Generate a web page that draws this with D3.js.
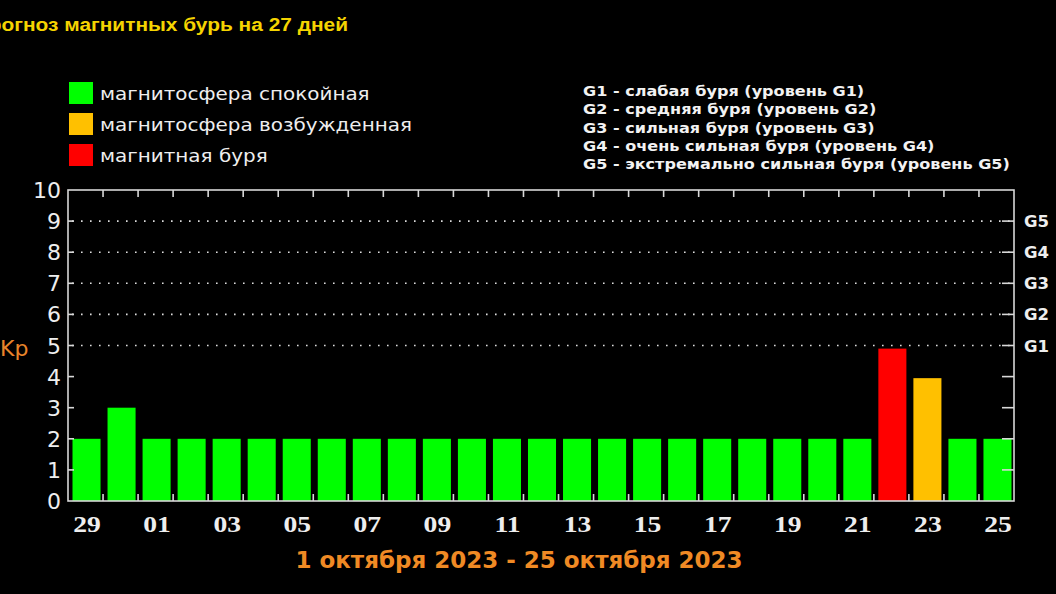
<!DOCTYPE html>
<html><head><meta charset="utf-8">
<script src="https://cdn.jsdelivr.net/npm/d3@7"></script>
<style>html,body{margin:0;padding:0;background:#000;overflow:hidden}</style>
</head><body>
<svg id="c" width="1056" height="594"></svg>
<script>
const days = ["29","30","01","02","03","04","05","06","07","08","09","10","11","12","13","14","15","16","17","18","19","20","21","22","23","24","25"];
const kp =   [2,3,2,2,2,2,2,2,2,2,2,2,2,2,2,2,2,2,2,2,2,2,2,4.9,3.95,2,2];
const level = ["q","q","q","q","q","q","q","q","q","q","q","q","q","q","q","q","q","q","q","q","q","q","q","s","a","q","q"];
const yTicks = [0,1,2,3,4,5,6,7,8,9,10];
const gLevels = [5,6,7,8,9];
const gLabels = ["G1","G2","G3","G4","G5"];
const legendLabels = ["магнитосфера спокойная","магнитосфера возбужденная","магнитная буря"];
const gDesc = ["G1 - слабая буря (уровень G1)","G2 - средняя буря (уровень G2)","G3 - сильная буря (уровень G3)","G4 - очень сильная буря (уровень G4)","G5 - экстремально сильная буря (уровень G5)"];
const colorMap = {q:"#00ff00", a:"#ffc000", s:"#ff0000"};
const legendColors = ["#00ff00","#ffc000","#ff0000"];

const svg = d3.select("#c");
const L=68, R=1014, T=190, B=501;
const x = d3.scaleBand().domain(days).range([L,R]).padding(0);
const y = d3.scaleLinear().domain([0,10]).range([B,T]);

function stext(parent, tx, ty, sx, txt){
  return parent.append("text").attr("transform",`translate(${tx},${ty}) scale(${sx},1)`).text(txt);
}

// title
stext(svg, 348, 31, 1.13, "Прогноз магнитных бурь на 27 дней").attr("text-anchor","end")
  .attr("font-family","Liberation Sans, Arial, sans-serif").attr("font-weight","bold")
  .attr("font-size",18.5).attr("fill","#f5d400");

// left legend
const lg = svg.append("g");
legendLabels.forEach((t,i)=>{
  lg.append("rect").attr("x",69).attr("y",82+i*31).attr("width",24).attr("height",22).attr("fill",legendColors[i]);
  stext(lg, 100, 100+i*31, 1.14, t).attr("font-family","DejaVu Sans, sans-serif")
    .attr("font-size",17.5).attr("fill","#eee");
});
// right legend
gDesc.forEach((t,i)=>{
  stext(svg, 583, 96+i*18.3, 1.19, t).attr("font-family","DejaVu Sans, sans-serif")
    .attr("font-weight","bold").attr("font-size",13.5).attr("fill","#f2f2f2");
});

// gridlines
svg.append("g").selectAll("line").data(gLevels).join("line")
  .attr("x1",L+4).attr("x2",R).attr("y1",d=>y(d)).attr("y2",d=>y(d))
  .attr("stroke","#ddd").attr("stroke-width",1.6).attr("stroke-dasharray","1.6,7.4");

// bars
svg.append("g").selectAll("rect").data(days).join("rect")
  .attr("x",d=>x(d)+4.5).attr("width",x.bandwidth()-7)
  .attr("y",(d,i)=>y(kp[i])).attr("height",(d,i)=>y(0)-y(kp[i]))
  .attr("fill",(d,i)=>colorMap[level[i]]);

// frame
svg.append("rect").attr("x",L).attr("y",T).attr("width",R-L).attr("height",B-T)
  .attr("fill","none").attr("stroke","#d8d8d8").attr("stroke-width",1.6);

// slot ticks top and bottom
const bounds = days.slice(1);
svg.append("g").selectAll("line").data(bounds).join("line")
  .attr("x1",d=>x(d)).attr("x2",d=>x(d)).attr("y1",T).attr("y2",T+7)
  .attr("stroke","#d8d8d8").attr("stroke-width",1.6);
svg.append("g").selectAll("line").data(bounds).join("line")
  .attr("x1",d=>x(d)).attr("x2",d=>x(d)).attr("y1",B).attr("y2",B-7)
  .attr("stroke","#d8d8d8").attr("stroke-width",1.6);
// y ticks left and right
const yt = yTicks.slice(1,10);
svg.append("g").selectAll("line").data(yt).join("line")
  .attr("x1",L).attr("x2",L+6).attr("y1",d=>y(d)).attr("y2",d=>y(d))
  .attr("stroke","#d8d8d8").attr("stroke-width",1.6);
svg.append("g").selectAll("line").data(yt).join("line")
  .attr("x1",R-12).attr("x2",R).attr("y1",d=>y(d)).attr("y2",d=>y(d))
  .attr("stroke","#d8d8d8").attr("stroke-width",1.6);

// y tick labels
svg.append("g").selectAll("text").data(yTicks).join("text")
  .attr("x",61).attr("y",d=>y(d)+8).attr("text-anchor","end")
  .attr("font-family","DejaVu Sans, sans-serif").attr("font-size",22).attr("fill","#eee").text(d=>d);
// Kp
svg.append("text").attr("x",0).attr("y",356).attr("font-family","DejaVu Sans, sans-serif")
  .attr("font-size",22).attr("fill","#e8842a").text("Kp");
// G labels
const gg = svg.append("g");
gLevels.forEach((v,i)=>{
  stext(gg, 1024, y(v)+6, 1.1, gLabels[i]).attr("font-family","DejaVu Sans, sans-serif").attr("font-weight","bold")
    .attr("font-size",15).attr("fill","#eee");
});

// x labels
const xg = svg.append("g");
days.forEach((d,i)=>{
  if(i%2!==0) return;
  stext(xg, x(d)+x.bandwidth()/2+1.5, 532, 1.15, d).attr("text-anchor","middle")
    .attr("font-family","Liberation Serif, serif").attr("font-weight","bold")
    .attr("font-size",24).attr("fill","#eee");
});

// date range
svg.append("text").attr("x",519).attr("y",568).attr("text-anchor","middle")
  .attr("font-family","DejaVu Sans, sans-serif").attr("font-weight","bold")
  .attr("font-size",23).attr("fill","#f08a24").text("1 октября 2023 - 25 октября 2023");
</script>
</body></html>
